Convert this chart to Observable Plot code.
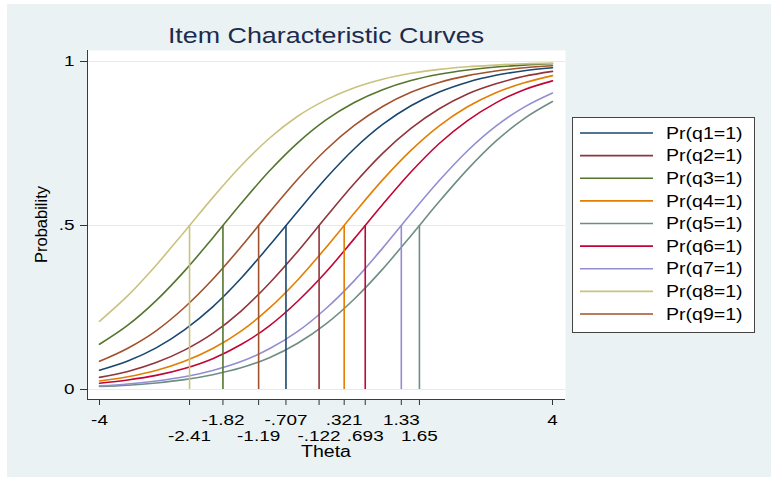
<!DOCTYPE html>
<html>
<head>
<meta charset="utf-8">
<script src="https://cdn.jsdelivr.net/npm/d3@7"></script>
<script src="https://cdn.jsdelivr.net/npm/@observablehq/plot@0.6"></script>
<style>
  body { margin: 0; background: #ffffff; }
</style>
</head>
<body>
<script>
// ---- data ----
const theta = [-4, -3.5, -3, -2.5, -2, -1.5, -1, -0.5, 0, 0.5, 1, 1.5, 2, 2.5, 3, 3.5, 4];
const items = ["q1", "q2", "q3", "q4", "q5", "q6", "q7", "q8", "q9"];
const difficulty = [-0.707, -0.122, -1.82, 0.321, 1.65, 0.693, 1.33, -2.41, -1.19];
const itemColors = ["#1a476f", "#90353b", "#55752f", "#e37e00", "#6e8e84", "#c10534", "#938dd2", "#cac27e", "#a0522d"];

const pQ1 = [0.059, 0.087, 0.127, 0.182, 0.252, 0.339, 0.439, 0.543, 0.644, 0.734, 0.808, 0.865, 0.907, 0.937, 0.958, 0.972, 0.981];
const pQ2 = [0.037, 0.055, 0.082, 0.120, 0.171, 0.239, 0.324, 0.421, 0.526, 0.628, 0.720, 0.796, 0.856, 0.901, 0.932, 0.955, 0.970];
const pQ3 = [0.138, 0.196, 0.271, 0.361, 0.462, 0.567, 0.666, 0.752, 0.822, 0.875, 0.914, 0.942, 0.961, 0.974, 0.983, 0.989, 0.993];
const pQ4 = [0.026, 0.039, 0.058, 0.086, 0.125, 0.178, 0.248, 0.334, 0.433, 0.538, 0.639, 0.729, 0.804, 0.862, 0.905, 0.935, 0.957];
const pQ5 = [0.009, 0.013, 0.020, 0.030, 0.045, 0.066, 0.097, 0.141, 0.200, 0.276, 0.367, 0.469, 0.573, 0.671, 0.757, 0.826, 0.878];
const pQ6 = [0.019, 0.029, 0.043, 0.064, 0.094, 0.137, 0.194, 0.269, 0.358, 0.460, 0.564, 0.663, 0.750, 0.820, 0.874, 0.914, 0.941];
const pQ7 = [0.011, 0.017, 0.026, 0.039, 0.058, 0.085, 0.124, 0.177, 0.247, 0.332, 0.431, 0.536, 0.637, 0.728, 0.803, 0.861, 0.904];
const pQ8 = [0.208, 0.286, 0.379, 0.481, 0.585, 0.682, 0.766, 0.833, 0.883, 0.920, 0.946, 0.964, 0.976, 0.984, 0.989, 0.993, 0.995];
const pQ9 = [0.086, 0.126, 0.179, 0.250, 0.336, 0.435, 0.540, 0.641, 0.731, 0.805, 0.863, 0.906, 0.936, 0.957, 0.971, 0.981, 0.987];
const probs = [pQ1, pQ2, pQ3, pQ4, pQ5, pQ6, pQ7, pQ8, pQ9];

const xTicksRow1 = [-4, -1.82, -0.707, 0.321, 1.33, 4];
const xLabelsRow1 = ["-4", "-1.82", "-.707", ".321", "1.33", "4"];
const xTicksRow2 = [-2.41, -1.19, -0.122, 0.693, 1.65];
const xLabelsRow2 = ["-2.41", "-1.19", "-.122", ".693", "1.65"];
const yTicks = [0, 0.5, 1];
const yLabels = ["0", ".5", "1"];

const titleText = "Item Characteristic Curves";
const xTitle = "Theta";
const yTitle = "Probability";
const legendLabels = items.map(q => `Pr(${q}=1)`);

// ---- tables for the library ----
const curveRows = [];
items.forEach((q, k) => theta.forEach((t, i) => curveRows.push({item: q, theta: t, p: probs[k][i], color: itemColors[k]})));
const itemRows = items.map((q, k) => ({item: q, b: difficulty[k], color: itemColors[k]}));

// ---- layout ----
const W = 771, H = 477, ML = 87, MR = 206, MT = 50, MB = 78;
const FONT = "'Liberation Sans', Arial, sans-serif";
const STRETCH = 1.22;

const chart = Plot.plot({
  width: W, height: H,
  marginLeft: ML, marginRight: MR, marginTop: MT, marginBottom: MB,
  style: {background: "transparent", fontFamily: FONT, fontSize: "15.5px", color: "#000", overflow: "visible"},
  x: {domain: [-4, 4], insetLeft: 12, insetRight: 13, label: null},
  y: {domain: [0, 1], insetTop: 11, insetBottom: 10, label: null},
  color: {type: "identity"},
  marks: [
    Plot.frame({fill: "white", stroke: "none"}),
    Plot.gridY(yTicks, {stroke: "#e2ebee", strokeOpacity: 1, strokeWidth: 1}),
    Plot.line(curveRows, {x: "theta", y: "p", z: "item", stroke: "color", strokeWidth: 1.6, curve: "monotone-x"}),
    Plot.ruleX(itemRows, {x: "b", y1: 0, y2: 0.5, stroke: "color", strokeWidth: 1.6}),
    Plot.axisY(yTicks, {label: null, tickSize: 7, tickPadding: 6, tickFormat: d => yLabels[yTicks.indexOf(d)], stroke: "#333"}),
    Plot.axisX(xTicksRow1, {label: null, tickSize: 6, tickPadding: 8, tickFormat: d => xLabelsRow1[xTicksRow1.indexOf(d)], stroke: "#333"}),
    Plot.axisX(xTicksRow2, {label: null, tickSize: 6, tickPadding: 24, tickFormat: d => xLabelsRow2[xTicksRow2.indexOf(d)], stroke: "#333"})
  ]
});

document.body.append(chart);
const svg = d3.select(chart.tagName.toLowerCase() === "svg" ? chart : chart.querySelector("svg"));

// outer graph region background
svg.insert("rect", ":first-child")
  .attr("x", 7).attr("y", 4).attr("width", W - 7).attr("height", H - 4)
  .attr("fill", "#eaf2f3");

// axis lines
const axisG = svg.append("g").attr("stroke", "#3a3a3a").attr("stroke-width", 1);
axisG.append("line").attr("x1", ML + 0.5).attr("x2", ML + 0.5).attr("y1", MT).attr("y2", H - MB + 0.5);
axisG.append("line").attr("x1", ML).attr("x2", W - MR).attr("y1", H - MB + 0.5).attr("y2", H - MB + 0.5);

const cx = ML + (W - ML - MR) / 2;
const stretchTexts = [];

// title
stretchTexts.push(svg.append("text").attr("x", cx).attr("y", 43)
  .attr("text-anchor", "middle").attr("font-size", 22).attr("font-family", FONT)
  .attr("fill", "#1c2b4f").text(titleText));

// axis titles
stretchTexts.push(svg.append("text").attr("x", cx).attr("y", 457)
  .attr("text-anchor", "middle").attr("font-size", 16).attr("font-family", FONT)
  .attr("fill", "#000").text(xTitle));
svg.append("text").attr("transform", `translate(47,${MT + (H - MT - MB) / 2}) rotate(-90)`)
  .attr("text-anchor", "middle").attr("font-size", 16.5).attr("font-family", FONT)
  .attr("fill", "#000").text(yTitle);

// legend
const lg = svg.append("g");
lg.append("rect").attr("x", 572.5).attr("y", 117.5).attr("width", 182).attr("height", 215)
  .attr("fill", "white").attr("stroke", "#444").attr("stroke-width", 1);
legendLabels.forEach((lab, i) => {
  const yy = 133 + i * 22.63;
  lg.append("line").attr("x1", 580).attr("x2", 653).attr("y1", yy).attr("y2", yy)
    .attr("stroke", itemColors[i]).attr("stroke-width", 1.6);
  stretchTexts.push(lg.append("text").attr("x", 666).attr("y", yy + 5.7)
    .attr("text-anchor", "start")
    .attr("font-size", 16).attr("font-family", FONT).attr("fill", "#000").text(lab));
});

// widen glyphs horizontally like the reference rendering
function widen(node) {
  const w = node.getComputedTextLength();
  if (w > 0) {
    node.setAttribute("textLength", (w * STRETCH).toFixed(1));
    node.setAttribute("lengthAdjust", "spacingAndGlyphs");
  }
}
stretchTexts.forEach(s => widen(s.node()));
svg.selectAll("g[aria-label$='tick label'] text").each(function() { widen(this); });
</script>
</body>
</html>
